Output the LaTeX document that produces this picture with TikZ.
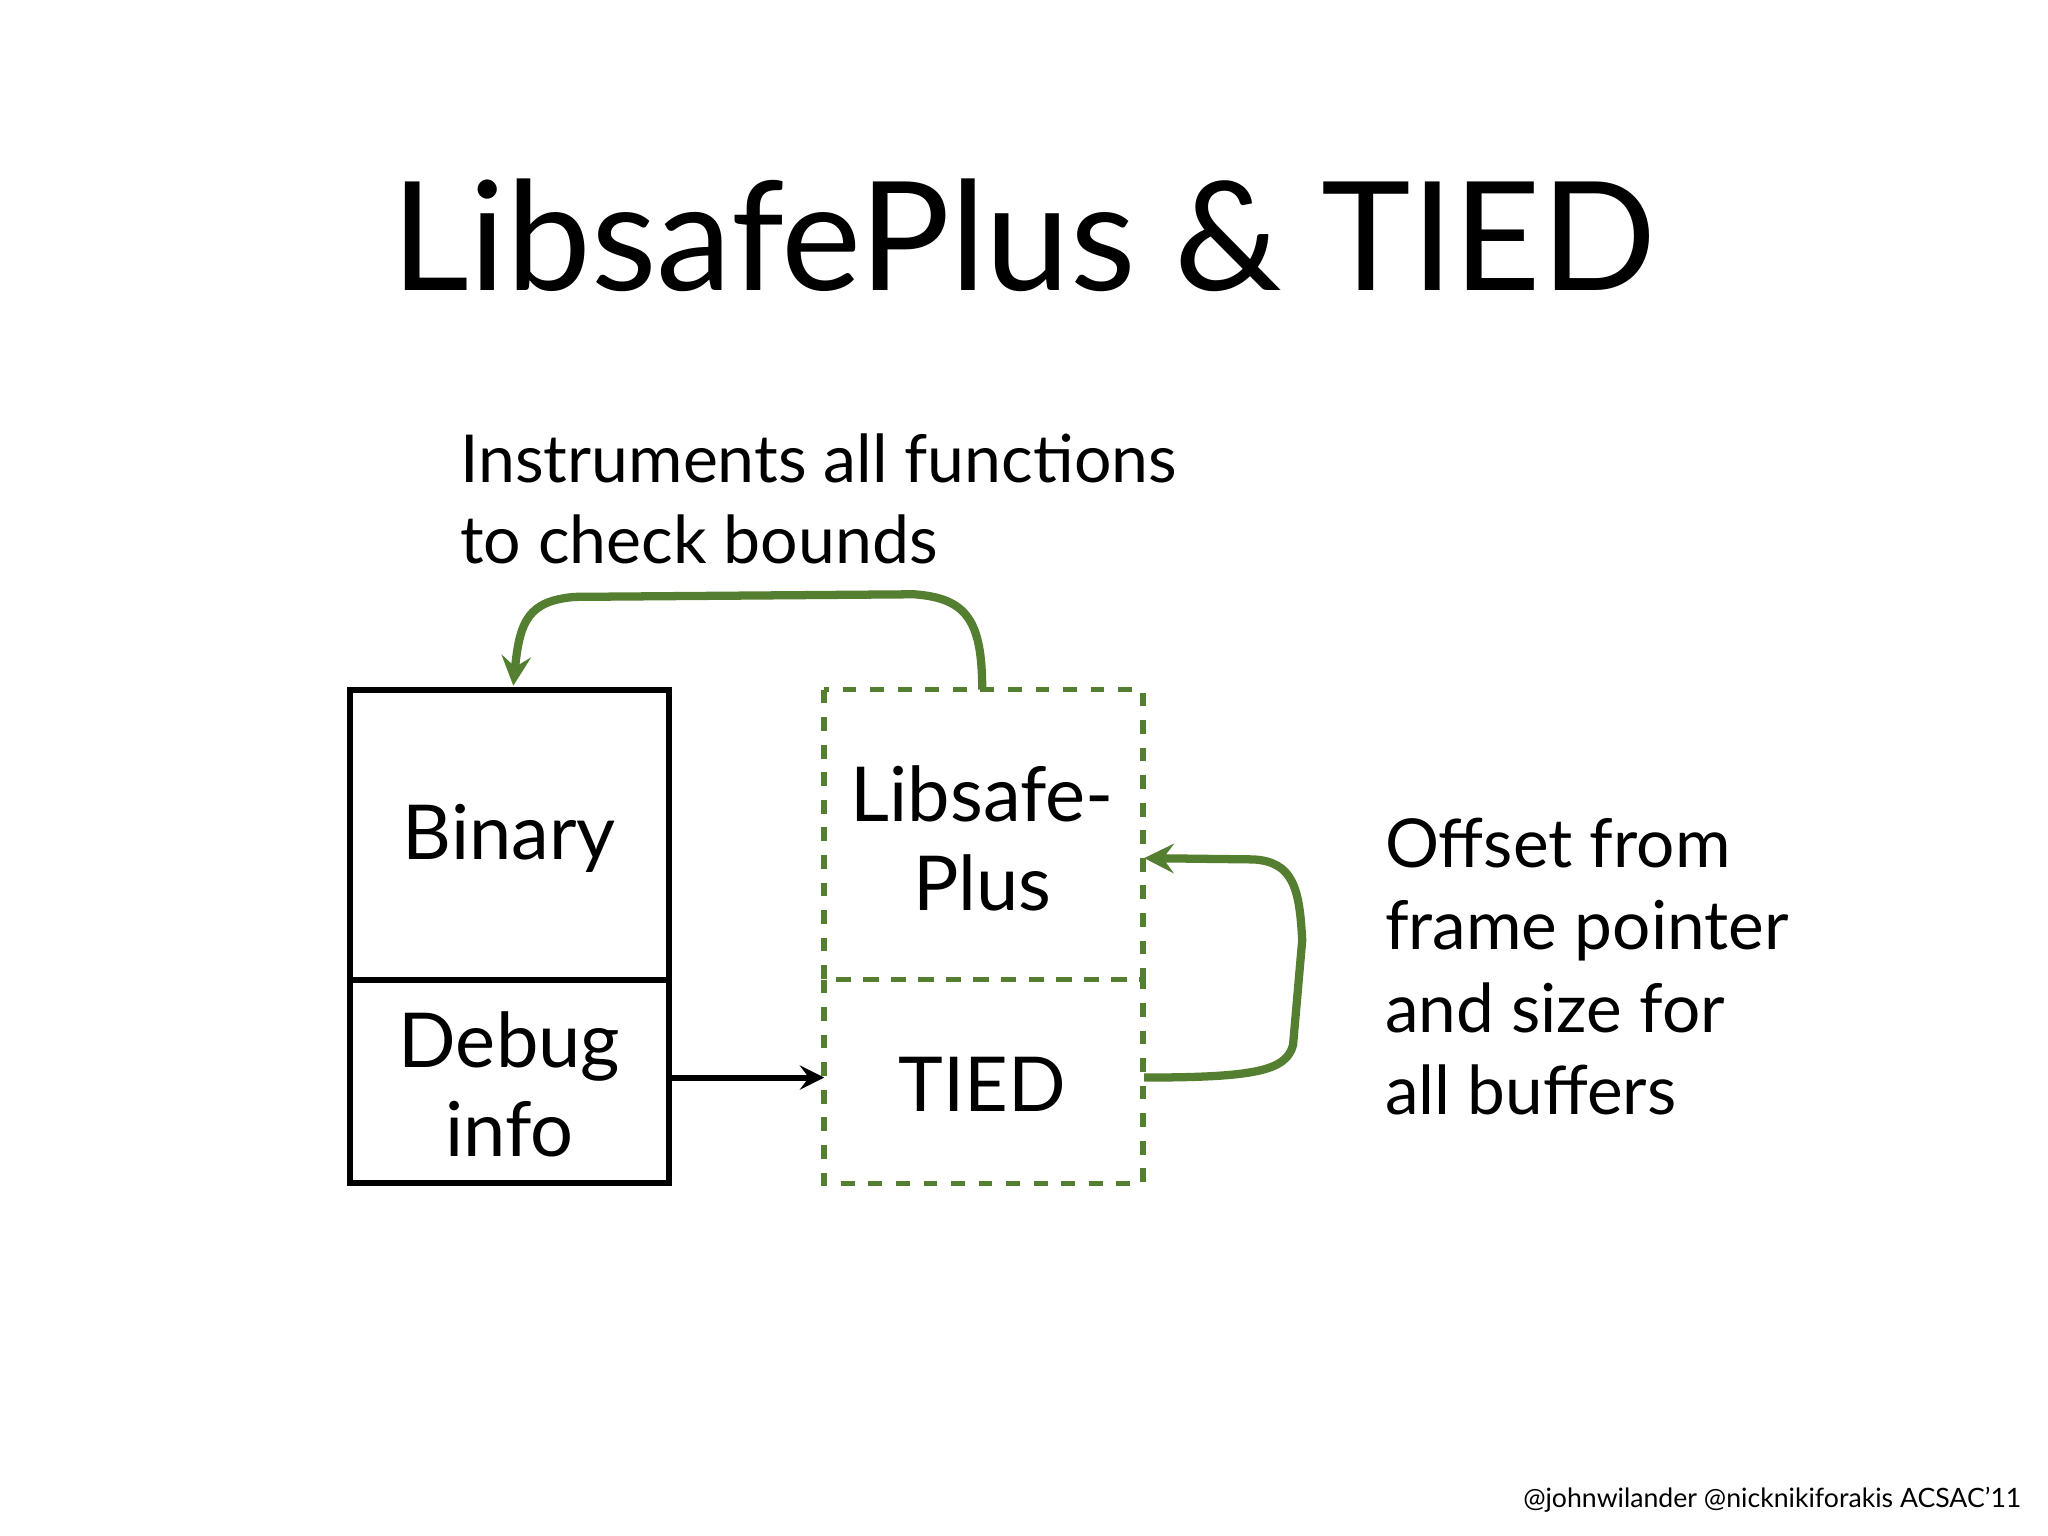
\documentclass[tikz,border=0pt]{standalone}
\usepackage{fontspec}
\setmainfont{Lato}
\definecolor{grn}{RGB}{84,126,48}
\begin{document}
\begin{tikzpicture}[x=0.01cm,y=-0.01cm,
  box/.style={draw,line width=1.3pt},
  dbox/.style={draw=grn,dashed,line width=1.2pt},
  garr/.style={draw=grn,line width=1.8pt,-stealth},
  lbl/.style={font=\fontsize{16.5}{19.3}\selectfont,align=center}]
\useasboundingbox (0,0) rectangle (1568,1176);
\node (title) at (784,180) {\fontsize{33}{40}\selectfont LibsafePlus \& TIED};
\draw[box] (268,528) rectangle (512,750);
\draw[box] (268,750) rectangle (512,906);
\coordinate (bintop) at (393,525);
\coordinate (debr) at (512,825);
\node[lbl] (b) at (390,642) {Binary};
\node[lbl] (d) at (390,830) {Debug\\info};
\draw[dbox] (631,528) rectangle (875,750);
\draw[dbox] (631,750) rectangle (875,906);
\coordinate (tiedl) at (631,825);
\coordinate (tiedr) at (876,825);
\coordinate (libr) at (876,657);
\coordinate (libt) at (752,528);
\node[lbl] (l) at (752,642) {Libsafe-\\Plus};
\node[lbl] (t) at (752,830) {TIED};
\draw[line width=1.3pt,-stealth] (debr) -- (tiedl);
\draw[garr] (libt) .. controls (752,475) and (740,458) .. (700,455)
  -- (440,457) .. controls (405,460) and (398,475) .. (bintop);
\draw[garr] (tiedr) .. controls (960,825) and (985,820) .. (990,800)
  -- (997,720) .. controls (995,680) and (990,660) .. (960,658) -- (libr);
\node[anchor=west,align=left,font=\fontsize{14.4}{17.6}\selectfont] (i) at (340,382) {Instruments all functions\\to check bounds};
\node[anchor=west,align=left,font=\fontsize{14.7}{17.9}\selectfont] (o) at (1048,740) {Offset from\\frame pointer\\and size for\\all buffers};
\node[anchor=south east,font=\fontsize{5.8}{7}\selectfont] (f) at (1560,1170) {@johnwilander @nicknikiforakis ACSAC'11};
\end{tikzpicture}
\end{document}
